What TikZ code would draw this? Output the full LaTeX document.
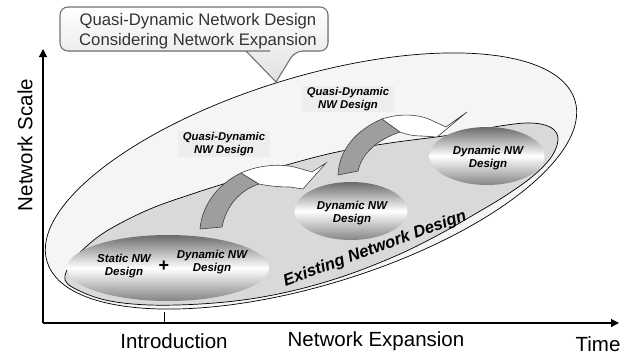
\documentclass[tikz,border=0pt]{standalone}
\usepackage{fontspec}
\setmainfont{Liberation Sans}
\usetikzlibrary{arrows.meta,shapes.geometric}
\begin{document}
\begin{tikzpicture}[x=1pt,y=-1pt,
  axisline/.style={line width=1.1pt,-{Triangle[length=8pt,width=8pt]}},
  axislabel/.style={font=\fontsize{20.5}{24}\selectfont,inner sep=0pt},
  band/.style={ellipse,draw=black,line width=0.7pt,inner sep=0pt},
  design/.style={ellipse,draw=none,inner sep=0pt,shading=axis,
    top color=black!58,bottom color=black!48,middle color=white},
  designtext/.style={font=\fontsize{11.5}{13.5}\selectfont\bfseries\itshape,
    align=center,inner sep=0pt},
  tag/.style={fill=black!7,draw=none,minimum width=92pt,minimum height=26pt,
    inner sep=0pt,font=\fontsize{11.3}{13.2}\selectfont\bfseries\itshape,align=center},
  legpart/.style={fill=black!38,draw=black!75,line width=0.6pt},
  frontpart/.style={fill=white,draw=black!75,line width=0.6pt}
]
\useasboundingbox (0,0) rectangle (634,357);

% axes
\coordinate (origin) at (43,323);
\coordinate (ytop) at (43,49);
\coordinate (xend) at (619,323);
\draw[axisline] (origin) -- (ytop);
\draw[axisline] (origin) -- (xend);
\coordinate (tickTop) at (164,312);
\coordinate (tickBot) at (164,323);
\draw[line width=0.8pt] (tickBot) -- (tickTop);

\node[axislabel] (lintro) at (174,341) {Introduction};
\node[axislabel] (lexp) at (376,341) {Network Expansion};
\node[axislabel] (ltime) at (598,344) {Time};
\node[axislabel,rotate=90] (lscale) at (25,145) {Network Scale};

% outer region: network design considering expansion
\node[band,fill=black!4,minimum width=552pt,minimum height=208pt,rotate=17]
  (outer) at (311,181) {};
% inner region: existing network design
\draw[fill=black!15,line width=0.7pt] plot[smooth cycle,tension=0.6] coordinates {
  (65,280) (72,262) (88,245) (110,229) (150,209) (195,193) (243,178)
  (290,164) (337,152) (390,143) (450,135) (500,126) (530,123) (550,127)
  (558,138) (552,156) (533,176) (505,196) (475,214) (440,234) (400,254)
  (350,274) (300,289) (250,299) (200,304) (150,305) (110,301) (82,292)};

% design ellipses
\node[design,minimum width=202pt,minimum height=66pt] (e1) at (168,268) {};
\node[designtext] (e1a) at (124,266) {Static NW\\Design};
\node[font=\fontsize{18}{18}\selectfont\bfseries,inner sep=0pt] (plus) at (164,266) {+};
\node[designtext] (e1b) at (212,262) {Dynamic NW\\Design};

\node[design,minimum width=113pt,minimum height=58pt] (e2) at (351,211) {};
\node[designtext] (e2t) at (352,213) {Dynamic NW\\Design};

\node[design,minimum width=115pt,minimum height=58pt] (e3) at (487,156) {};
\node[designtext] (e3t) at (488,158) {Dynamic NW\\Design};

\node[font=\fontsize{16.5}{18}\selectfont\bfseries\itshape,rotate=20,inner sep=0pt]
  (existing) at (375,249) {Existing Network Design};

% curved transition arrows: darker rising leg, white front band with head
\filldraw[legpart] (200,229) .. controls (202,205) and (218,184) .. (241,173)
  -- (259,184) .. controls (240,190) and (226,206) .. (222,227) -- cycle;
\filldraw[frontpart] (241,173) .. controls (258,165) and (282,163) .. (298,168)
  -- (312,172) -- (326,163) -- (303,189) -- (290,187)
  .. controls (280,187) and (268,186) .. (259,184) -- cycle;

\filldraw[legpart] (338,175) .. controls (339,150) and (356,130) .. (382,119)
  -- (400,132) .. controls (377,140) and (362,153) .. (358,171) -- cycle;
\filldraw[frontpart] (382,119) .. controls (400,113) and (420,114) .. (433,121)
  -- (446,127) -- (467,112) -- (437,137) -- (422,136)
  .. controls (412,136) and (405,134) .. (400,132) -- cycle;

\node[tag] (q1) at (224,144) {Quasi-Dynamic\\NW Design};
\node[tag] (q2) at (348,99) {Quasi-Dynamic\\NW Design};

% title callout
\filldraw[draw=black!55,line width=1.1pt,top color=white,bottom color=black!12,
  rounded corners=8pt]
  (270,51) -- (60,51) -- (60,7) -- (328,7) -- (328,51) -- (295,51)
  [sharp corners] -- (276,82) -- (246,51) -- cycle;
\node[font=\fontsize{16.7}{20}\selectfont,text=black!80,align=center,inner sep=0pt]
  (title) at (198,31) {Quasi-Dynamic Network Design\\Considering Network Expansion};
\end{tikzpicture}
\end{document}
